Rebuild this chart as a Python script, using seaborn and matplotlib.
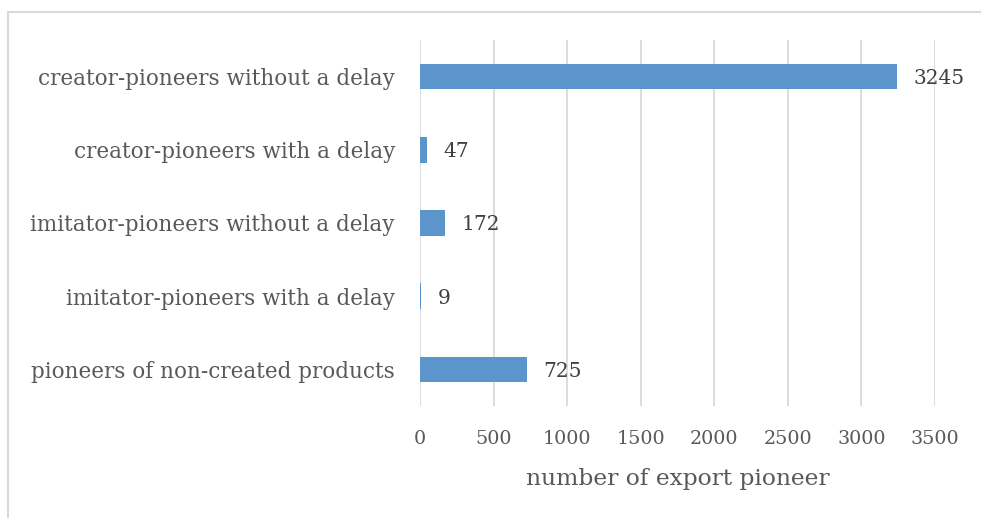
import matplotlib
matplotlib.use("Agg")
import matplotlib.pyplot as plt
from matplotlib.patches import Rectangle
import pandas as pd
import seaborn as sns

categories = [
    "creator-pioneers without a delay",
    "creator-pioneers with a delay",
    "imitator-pioneers without a delay",
    "imitator-pioneers with a delay",
    "pioneers of non-created products",
]
counts = [3245, 47, 172, 9, 725]
x_ticks = [0, 500, 1000, 1500, 2000, 2500, 3000, 3500]

TEXT = "#595959"
BAR = "#5B95CB"

sns.set_theme(style="white")
plt.rcParams["font.family"] = ["DejaVu Serif"]

df = pd.DataFrame({"category": categories, "count": counts})

fig = plt.figure(figsize=(9.81, 5.18), dpi=100)
ax = fig.add_axes([420 / 981, 1 - 406 / 518, 515 / 981, 366 / 518])

sns.barplot(data=df, x="count", y="category", color=BAR, width=0.35,
            saturation=1, linewidth=0, ax=ax, zorder=3)

ax.set_xlim(0, 3500)
ax.set_xticks(x_ticks)
ax.xaxis.grid(True, color="#D9D9D9", linewidth=1.3, zorder=0)
ax.set_axisbelow(True)
for s in ax.spines.values():
    s.set_visible(False)

ax.tick_params(axis="both", length=0, colors=TEXT)
ax.tick_params(axis="x", pad=17, labelsize=13.8)
ax.tick_params(axis="y", pad=18, labelsize=15.5)
ax.set_xlabel("number of export pioneer", fontsize=16.8, color=TEXT, labelpad=15)
ax.set_ylabel("")

for i, v in enumerate(counts):
    ax.text(v + 110, i, str(v), va="center_baseline", ha="left", fontsize=14.5,
            color="#404040", clip_on=False)

# outer chart border (cropped at right and bottom)
fig.patches.append(Rectangle((8 / 981, -0.1), 1.1, (518 - 12) / 518 + 0.1,
                             transform=fig.transFigure, fill=False,
                             edgecolor="#D9D9D9", linewidth=1.5))

fig.savefig("out.png", dpi=100)
